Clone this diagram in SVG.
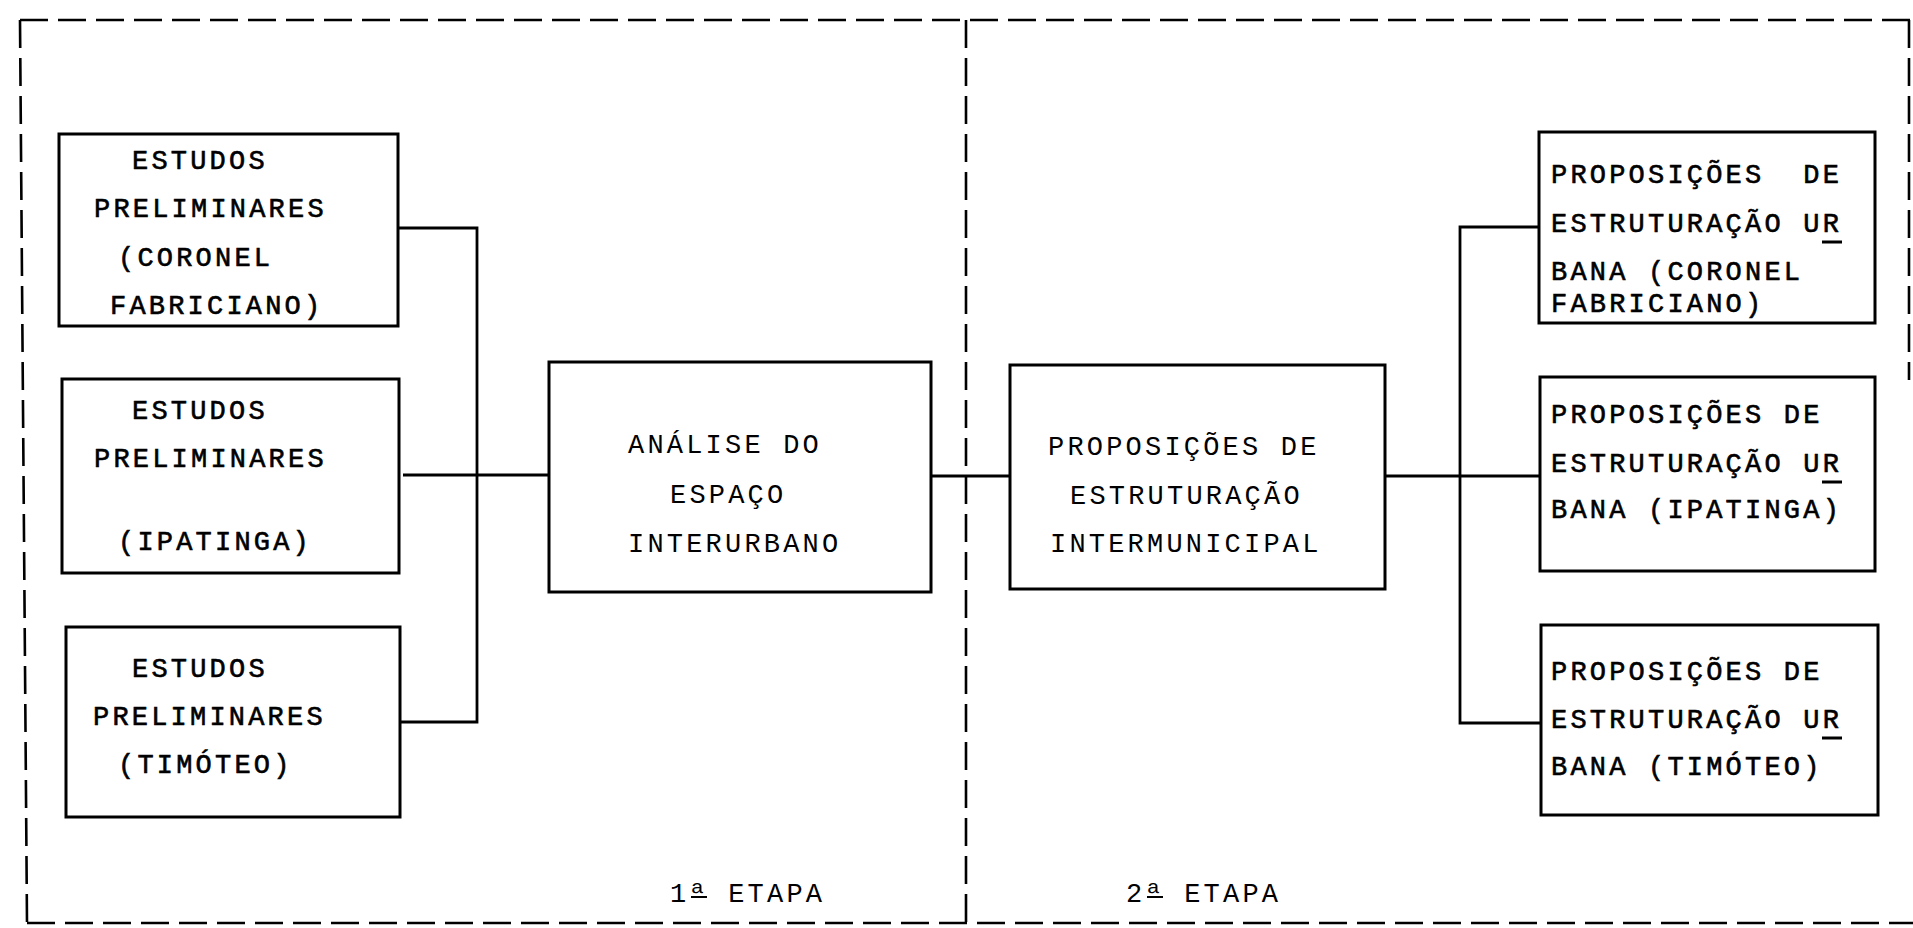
<svg xmlns="http://www.w3.org/2000/svg" width="1913" height="928" viewBox="0 0 1913 928">
<style>
.frame{fill:none;stroke:#000;stroke-width:2.6;stroke-dasharray:28 10}
.box{fill:#fff;stroke:#000;stroke-width:3}
.conn{fill:none;stroke:#000;stroke-width:2.8}
text{font-family:"Liberation Mono","DejaVu Sans Mono",monospace;font-size:27px;letter-spacing:3.2px;fill:#000}
.bold{stroke:#000;stroke-width:0.6}
.ul{stroke:#000;stroke-width:3}
</style>
<rect width="1913" height="928" fill="#fff"/>
<g id="frame">
<path class="frame" d="M20 20 H1913"/>
<path class="frame" d="M20 20 L27 923"/>
<path class="frame" d="M27 923 H1913"/>
<path class="frame" d="M1909 20 V380"/>
<path class="frame" d="M966 20 V923"/>
</g>
<g id="connectors">
<path class="conn" d="M398 228 H477 V722 H400"/>
<path class="conn" d="M403 475 H549"/>
<path class="conn" d="M931 476 H1010"/>
<path class="conn" d="M1385 476 H1540"/>
<path class="conn" d="M1539 227 H1460 V723 H1541"/>
</g>
<g id="estudos-coronel">
<rect class="box" x="59" y="134" width="339" height="192"/>
<text class="bold" x="132" y="169">ESTUDOS</text>
<text class="bold" x="94" y="217">PRELIMINARES</text>
<text class="bold" x="118" y="266">(CORONEL</text>
<text class="bold" x="110" y="314">FABRICIANO)</text>
</g>
<g id="estudos-ipatinga">
<rect class="box" x="62" y="379" width="337" height="194"/>
<text class="bold" x="132" y="419">ESTUDOS</text>
<text class="bold" x="94" y="467">PRELIMINARES</text>
<text class="bold" x="118" y="550">(IPATINGA)</text>
</g>
<g id="estudos-timoteo">
<rect class="box" x="66" y="627" width="334" height="190"/>
<text class="bold" x="132" y="677">ESTUDOS</text>
<text class="bold" x="93" y="725">PRELIMINARES</text>
<text class="bold" x="118" y="773">(TIMÓTEO)</text>
</g>
<g id="analise">
<rect class="box" x="549" y="362" width="382" height="230"/>
<text x="628" y="453">ANÁLISE DO</text>
<text x="670" y="503">ESPAÇO</text>
<text x="628" y="552">INTERURBANO</text>
</g>
<g id="intermunicipal">
<rect class="box" x="1010" y="365" width="375" height="224"/>
<text x="1048" y="455">PROPOSIÇÕES DE</text>
<text x="1070" y="504">ESTRUTURAÇÃO</text>
<text x="1050" y="552">INTERMUNICIPAL</text>
</g>
<g id="urbana-coronel">
<rect class="box" x="1539" y="132" width="336" height="191"/>
<text class="bold" x="1551" y="183" xml:space="preserve">PROPOSIÇÕES  DE</text>
<text class="bold" x="1551" y="232">ESTRUTURAÇÃO UR</text>
<line class="ul" x1="1822" y1="242" x2="1842" y2="242"/>
<text class="bold" x="1551" y="280">BANA (CORONEL</text>
<text class="bold" x="1551" y="312">FABRICIANO)</text>
</g>
<g id="urbana-ipatinga">
<rect class="box" x="1540" y="377" width="335" height="194"/>
<text class="bold" x="1551" y="423">PROPOSIÇÕES DE</text>
<text class="bold" x="1551" y="472">ESTRUTURAÇÃO UR</text>
<line class="ul" x1="1822" y1="482" x2="1842" y2="482"/>
<text class="bold" x="1551" y="518">BANA (IPATINGA)</text>
</g>
<g id="urbana-timoteo">
<rect class="box" x="1541" y="625" width="337" height="190"/>
<text class="bold" x="1551" y="680">PROPOSIÇÕES DE</text>
<text class="bold" x="1551" y="728">ESTRUTURAÇÃO UR</text>
<line class="ul" x1="1822" y1="738" x2="1842" y2="738"/>
<text class="bold" x="1551" y="775">BANA (TIMÓTEO)</text>
</g>
<g id="labels">
<text x="670" y="902">1ª ETAPA</text>
<line x1="691" y1="897" x2="707" y2="897" stroke="#000" stroke-width="2"/>
<text x="1126" y="902">2ª ETAPA</text>
<line x1="1147" y1="897" x2="1163" y2="897" stroke="#000" stroke-width="2"/>
</g>
</svg>
